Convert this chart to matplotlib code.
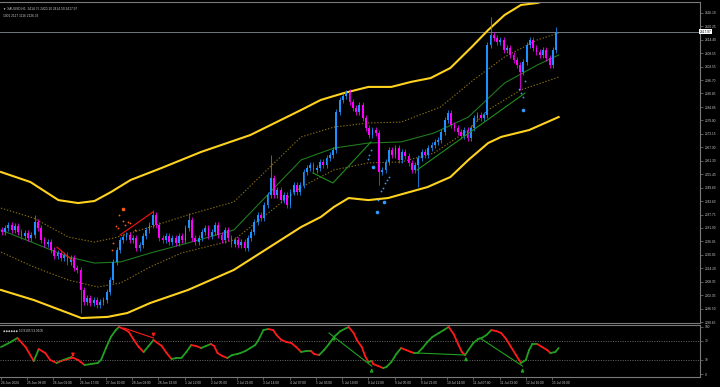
import matplotlib
matplotlib.use('Agg')
import matplotlib.pyplot as plt
import numpy as np
from matplotlib.collections import LineCollection
import matplotlib.transforms as mtransforms

# ---------------- data ----------------
# two-hour candles (close prices), the open of each is the previous close
first_open = 2331.0
closes = [
    2330.1, 2331.9, 2333.2, 2331.0, 2332.7, 2330.1, 2328.4, 2329.7, 2327.5, 2328.8,
    2334.5, 2331.9, 2326.6, 2324.9, 2325.7, 2322.2, 2319.6, 2320.9, 2318.7, 2320.0,
    2317.0, 2318.7, 2314.3, 2313.5, 2304.7, 2299.4, 2301.2, 2299.0, 2300.3, 2298.1,
    2299.4, 2300.3, 2303.8, 2309.1, 2317.0, 2322.2, 2326.6, 2327.9, 2328.8, 2326.6,
    2327.5, 2323.1, 2324.4, 2328.4, 2331.0, 2333.2, 2337.6, 2333.2, 2327.5, 2326.6,
    2328.4, 2325.7, 2327.5, 2325.3, 2328.4, 2326.6, 2331.9, 2335.4, 2327.5, 2325.7,
    2327.5, 2330.1, 2331.9, 2328.4, 2330.1, 2333.2, 2328.8, 2326.6, 2331.0, 2327.5,
    2324.9, 2326.6, 2324.4,
    2325.7, 2323.1, 2327.5, 2330.1, 2334.5, 2337.6, 2336.3, 2341.9, 2346.3, 2353.8,
    2346.3, 2348.5, 2344.1, 2346.3, 2341.9, 2347.6, 2350.7, 2347.6, 2350.7, 2356.4,
    2358.2, 2359.5, 2357.3, 2358.2, 2360.8, 2359.5, 2362.5, 2363.9, 2366.1, 2382.7,
    2388.0, 2389.7, 2391.5, 2387.1, 2384.5, 2382.7, 2385.8, 2380.1, 2375.7, 2372.6,
    2374.8, 2373.5, 2356.4, 2357.3, 2360.8, 2366.1, 2363.9, 2366.9, 2361.7, 2365.2,
    2363.4, 2360.4, 2357.3, 2359.5, 2362.5, 2365.2, 2363.9, 2366.9, 2368.2, 2369.6,
    2370.4, 2373.9, 2379.2, 2382.3, 2377.0, 2375.7, 2373.9, 2372.2, 2374.8, 2371.3,
    2375.7, 2380.1, 2381.4, 2380.1, 2381.4, 2412.1, 2416.5, 2415.1, 2413.4, 2414.3,
    2409.9, 2410.8, 2407.7, 2405.5, 2403.3, 2400.2, 2404.6, 2412.1, 2414.3, 2410.8,
    2409.0, 2407.7, 2409.9, 2406.4, 2403.3, 2409.9, 2417.97,
]
# notable wick extremes: candle index -> price
wick_high = {10: 2337.6, 46: 2339.8, 57: 2338.4, 82: 2363.9, 105: 2392.4,
             149: 2424.3, 169: 2420.1}
wick_low = {24: 2294.6, 115: 2350.7, 127: 2349.8, 158: 2392.4}

last_price = 2417.97

# band lines: (bar, price) knots
upper_outer = [(0, 2356.4), (18, 2352.0), (35, 2344.1), (47, 2342.8), (57, 2343.7),
               (67, 2347.6), (79, 2352.9), (98, 2358.2), (122, 2365.2), (152, 2372.6),
               (183, 2383.6), (195, 2388.0), (209, 2391.0), (224, 2393.7), (238, 2393.7),
               (250, 2395.9), (262, 2397.6), (274, 2402.0), (287, 2411.2), (297, 2418.6),
               (307, 2425.2), (317, 2429.6), (327, 2430.5), (340, 2433.1)]
upper_inner = [(0, 2340.6), (20, 2336.2), (41, 2327.9), (57, 2325.7), (69, 2327.5),
               (91, 2332.3), (114, 2337.6), (142, 2343.3), (183, 2371.8), (203, 2376.1),
               (224, 2377.9), (244, 2378.3), (268, 2384.9), (288, 2396.7), (307, 2406.8),
               (327, 2414.3), (340, 2417.3)]
middle = [(0, 2331.0), (20, 2325.3), (41, 2319.2), (57, 2316.5), (73, 2317.0),
          (91, 2320.9), (114, 2325.3), (142, 2331.0), (183, 2361.7), (203, 2366.9),
          (224, 2369.1), (244, 2369.6), (264, 2373.5), (285, 2380.5), (307, 2395.4),
          (327, 2403.3), (340, 2407.7)]
lower_inner = [(0, 2321.3), (20, 2314.8), (41, 2309.1), (59, 2306.0), (73, 2307.8),
               (91, 2314.8), (110, 2320.9), (142, 2326.6), (183, 2349.8), (203, 2357.3),
               (224, 2360.4), (244, 2360.8), (264, 2364.7), (285, 2374.8), (297, 2383.6),
               (317, 2392.4), (340, 2398.0)]
lower_outer = [(0, 2304.7), (20, 2300.3), (41, 2294.6), (49, 2292.4), (65, 2292.9),
               (77, 2294.6), (91, 2299.0), (114, 2304.7), (142, 2313.5), (183, 2332.3),
               (195, 2336.7), (203, 2341.1), (212, 2345.0), (224, 2344.1), (236, 2345.0),
               (260, 2349.8), (274, 2354.2), (285, 2361.7), (297, 2369.1), (305, 2371.8),
               (322, 2374.8), (340, 2380.5)]

# trend / divergence lines on price
green_lines = [[(190.2, 2356.0), (202.4, 2351.6), (225.6, 2369.6)],
               [(253.7, 2357.3), (319.5, 2391.0)]]
red_lines = [[(34.1, 2323.5), (43.3, 2317.8)],
             [(72.6, 2328.8), (92.7, 2338.9)]]

# signal dots: (bar, price, big?)
orange_dots = [(74.4, 2340.2, 1), (72, 2337.6, 0), (74.4, 2334.9, 0), (75.6, 2333.2, 0),
               (77.4, 2334.5, 0), (78.7, 2334.1, 0), (70, 2332.7, 0), (71.3, 2331.9, 0),
               (81.7, 2331.0, 0), (68.3, 2325.3, 0), (67.7, 2322.2, 0)]
blue_dots = [(227, 2358.7, 1), (225.6, 2366.1, 0), (224.4, 2363.9, 0), (223.8, 2362.1, 0),
             (236.6, 2354.2, 0), (235.4, 2352.9, 0), (234.1, 2351.6, 0), (232.9, 2349.4, 0),
             (231.7, 2348.1, 0), (229.9, 2344.1, 0), (233.5, 2343.3, 1), (229.3, 2338.9, 1),
             (319.5, 2396.3, 0), (315.9, 2392.8, 0), (317.1, 2391.0, 0), (318.3, 2389.3, 0),
             (318.3, 2383.6, 1)]

# oscillator (bar, value)
osc = [(0, 56.8), (6, 67.4), (10, 75.8), (15, 56.8), (20, 27.4), (23, 52.6), (27, 44.2),
       (30, 29.5), (34, 23.2), (38, 29.5), (43, 35.8), (47, 29.5), (51, 19), (55, 21),
       (59, 23.2), (61, 29.5), (64, 54.7), (67, 77.9), (70, 92.6), (72, 99), (75, 94.7),
       (78, 88.4), (81, 71.6), (84, 56.8), (87, 46.3), (90, 59), (93, 71.6), (98, 59),
       (101, 44), (104, 31.6), (107, 33.7), (110, 33.7), (113, 46.3), (116, 61), (119, 59),
       (122, 54.7), (125, 59), (128, 63.2), (130, 59), (132, 44.2), (135, 37.9), (138, 33.7),
       (141, 40), (144, 42), (146, 44.2), (149, 48.4), (152, 54.7), (155, 61), (157, 71.6),
       (160, 92.6), (163, 94.7), (166, 92.6), (168, 82), (171, 71.6), (174, 67.4),
       (177, 65.3), (180, 56.8), (183, 46.3), (186, 48.4), (189, 48.4), (191, 42),
       (194, 40), (197, 50.5), (200, 63.2), (203, 77.9), (207, 90.5), (212, 99),
       (215, 86.3), (217, 71.6), (220, 56.8), (222, 37.9), (224, 25.3), (226, 27.4),
       (227, 21), (230, 16.8), (233, 12.6), (235, 14.7), (238, 25.3), (241, 42),
       (244, 54.7), (247, 50.5), (250, 46.3), (252, 44.2), (254, 44.2), (257, 54.7),
       (260, 67.4), (263, 77.9), (267, 86.3), (270, 92.6), (273, 99), (276, 84.2),
       (279, 61), (281, 46.3), (283, 40), (285, 50.5), (288, 65.3), (291, 73.7),
       (293, 75.8), (296, 82.1), (299, 92.6), (302, 90.5), (305, 86.3), (308, 73.7),
       (311, 56.8), (314, 40), (317, 23.2), (320, 29.5), (322, 50.5), (324, 63.2),
       (327, 63.2), (330, 56.8), (333, 50.5), (335, 44.2), (338, 46.3), (340, 54.7)]
osc_red_lines = [[(34.8, 25.3), (43.9, 33.7)], [(75, 96.8), (93, 75.8)]]
osc_green_lines = [[(200, 86.3), (226, 16.8)], [(254, 44.2), (283, 40)],
                   [(292, 75.8), (318, 16.8)]]
osc_down_arrows = [(43.9, 42), (93, 84)]
osc_up_arrows = [(203, 72), (226, 4), (283.5, 28), (318, 4)]

price_ticks = [2426.10, 2420.25, 2414.40, 2408.55, 2402.55, 2396.70, 2390.85, 2384.85,
               2379.00, 2373.15, 2367.30, 2361.30, 2355.45, 2349.60, 2343.60, 2337.75,
               2331.90, 2326.05, 2320.05, 2314.20, 2308.35, 2302.35, 2296.50, 2290.65]
osc_ticks = [0, 30, 70, 100]
time_ticks = [0, 16, 32, 48, 64, 80, 96, 112, 128, 144, 160, 176, 192, 208, 224,
              240, 256, 272, 288, 304, 320, 336]
time_labels = ["24 Jun 2024", "25 Jun 08:00", "26 Jun 01:00", "26 Jun 17:00",
               "27 Jun 10:00", "28 Jun 03:00", "28 Jun 19:00", "1 Jul 12:00",
               "2 Jul 05:00", "2 Jul 21:00", "3 Jul 14:00", "4 Jul 07:00",
               "5 Jul 03:00", "5 Jul 19:00", "8 Jul 12:00", "9 Jul 05:00",
               "9 Jul 21:00", "10 Jul 14:00", "11 Jul 07:00", "11 Jul 23:00",
               "12 Jul 16:00", "15 Jul 09:00"]

# ---------------- style ----------------
BG = 'black'
GRID = '#7a7a7a'
TXT = '#c8c8c8'
UP = '#1e90ff'
DN = '#ff00ff'
FONT = ['Liberation Sans', 'DejaVu Sans']
FS = 2.3

fig = plt.figure(figsize=(7.2, 3.87), dpi=100, facecolor=BG)
W, H = 720.0, 387.0


def frame(x0, y0, x1, y1):
    return [x0 / W, 1 - y1 / H, (x1 - x0) / W, (y1 - y0) / H]


ax = fig.add_axes(frame(0, 2, 700, 323))
ox = fig.add_axes(frame(0, 325, 700, 377), sharex=ax)
for a in (ax, ox):
    a.set_facecolor(BG)
    for s in ('top', 'bottom', 'right'):
        a.spines[s].set_color(GRID)
        a.spines[s].set_linewidth(0.8)
    a.spines['left'].set_visible(False)

ax.set_xlim(-0.6, 426.2)
ax.set_ylim(2290.23, 2430.92)
ox.set_ylim(-6.3, 103.2)

# candles
n = len(closes)
xs = np.arange(n) * 2 + 0.5
opens = np.concatenate([[first_open], np.array(closes[:-1])])
cl = np.array(closes)
cols = [UP if c >= o else DN for o, c in zip(opens, cl)]
his = np.maximum(opens, cl) + 1.2
los = np.minimum(opens, cl) - 1.2
for k, v in wick_high.items():
    his[k] = v
for k, v in wick_low.items():
    los[k] = v
ax.vlines(xs, los, his, colors=cols, linewidth=0.55, zorder=3)
body = np.where(np.abs(cl - opens) < 0.25, 0.25, cl - opens)
ax.bar(xs, body, bottom=opens, width=1.1, color=cols, linewidth=0, zorder=4)

# bands
def xy(k):
    a = np.array(k)
    return a[:, 0], a[:, 1]

ax.plot(*xy(upper_outer), color='#ffd21f', lw=1.5, zorder=2)
ax.plot(*xy(lower_outer), color='#ffd21f', lw=1.5, zorder=2)
ax.plot(*xy(upper_inner), color='#8a7010', lw=0.8, ls=(0, (1.2, 1.6)), zorder=2)
ax.plot(*xy(lower_inner), color='#8a7010', lw=0.8, ls=(0, (1.2, 1.6)), zorder=2)
ax.plot(*xy(middle), color='#1f7a1f', lw=0.8, zorder=2)
for ln in green_lines:
    ax.plot(*xy(ln), color='#1f8f1f', lw=0.8, zorder=5)
for ln in red_lines:
    ax.plot(*xy(ln), color='#ff1010', lw=0.8, zorder=5)

for x, y, big in orange_dots:
    ax.plot(x, y, 'o', color='#ff5a14', ms=2.6 if big else 1.3, mew=0, zorder=6)
for x, y, big in blue_dots:
    ax.plot(x, y, 'o', color='#2e9bff', ms=2.6 if big else 1.3, mew=0, zorder=6)

ax.axhline(last_price, color='#6f7780', lw=0.7, zorder=1)

# price axis
ax.yaxis.tick_right()
ax.set_yticks(price_ticks)
ax.set_yticklabels(['%.2f' % v for v in price_ticks])
ax.tick_params(axis='y', colors=GRID, labelcolor=TXT, labelsize=FS, length=2,
               width=0.5, pad=1.2)
for t in ax.get_yticklabels():
    t.set_fontfamily(FONT)
ax.tick_params(axis='x', bottom=False, labelbottom=False)

ax.text(1.0, last_price, '%.2f' % last_price,
        transform=mtransforms.blended_transform_factory(ax.transAxes, ax.transData),
        fontsize=FS, family=FONT, color='black', va='center', ha='left',
        bbox=dict(boxstyle='square,pad=0.25', fc='white', ec='none'), zorder=10,
        clip_on=False)

ax.text(0.004, 0.985, '\u25bc XAUUSD,H1  2414.75 2420.10 2414.50 2417.97',
        transform=ax.transAxes, fontsize=FS, family=FONT, color=TXT, va='top', ha='left')
ax.text(0.004, 0.962, '1001 2117 1116 2126.33',
        transform=ax.transAxes, fontsize=FS, family=FONT, color=TXT, va='top', ha='left')

# oscillator
oa = np.array(osc)
segs = np.stack([oa[:-1], oa[1:]], axis=1)
scol = ['#22a022' if b[1] >= a[1] else '#ff1a1a' for a, b in zip(oa[:-1], oa[1:])]
ox.add_collection(LineCollection(segs, colors=scol, linewidths=1.3, zorder=3,
                                 capstyle='round'))
for lv in (30, 70):
    ox.axhline(lv, color='#8a8a8a', lw=0.5, ls=(0, (1.5, 2)), zorder=1)
for ln in osc_red_lines:
    ox.plot(*xy(ln), color='#ff1a1a', lw=0.8, zorder=4)
for ln in osc_green_lines:
    ox.plot(*xy(ln), color='#22a022', lw=0.8, zorder=4)
for x, v in osc_down_arrows:
    ox.annotate('', xy=(x, v - 12), xytext=(x, v + 6),
                arrowprops=dict(arrowstyle='-|>', color='#ff1a1a', lw=1.0,
                                mutation_scale=4))
for x, v in osc_up_arrows:
    ox.annotate('', xy=(x, v + 14), xytext=(x, v - 4),
                arrowprops=dict(arrowstyle='-|>', color='#22a022', lw=1.0,
                                mutation_scale=4))

ox.yaxis.tick_right()
ox.set_yticks(osc_ticks)
ox.set_yticklabels([str(v) for v in osc_ticks])
ox.tick_params(axis='y', colors=GRID, labelcolor=TXT, labelsize=FS, length=2,
               width=0.5, pad=1.2)
ox.set_xticks(time_ticks)
ox.set_xticklabels(time_labels)
ox.tick_params(axis='x', colors=GRID, labelcolor=TXT, labelsize=FS, length=2,
               width=0.5, pad=1.0)
for t in ox.get_xticklabels():
    t.set_ha('left')
    t.set_fontfamily(FONT)
for t in ox.get_yticklabels():
    t.set_fontfamily(FONT)

ox.text(0.004, 0.93, '\u25c6\u25c6\u25c6\u25c6\u25c6\u25c6 53.9105 53.9105',
        transform=ox.transAxes, fontsize=FS, family=FONT, color=TXT, va='top', ha='left')

fig.savefig('out.png', dpi=100, facecolor=BG)
